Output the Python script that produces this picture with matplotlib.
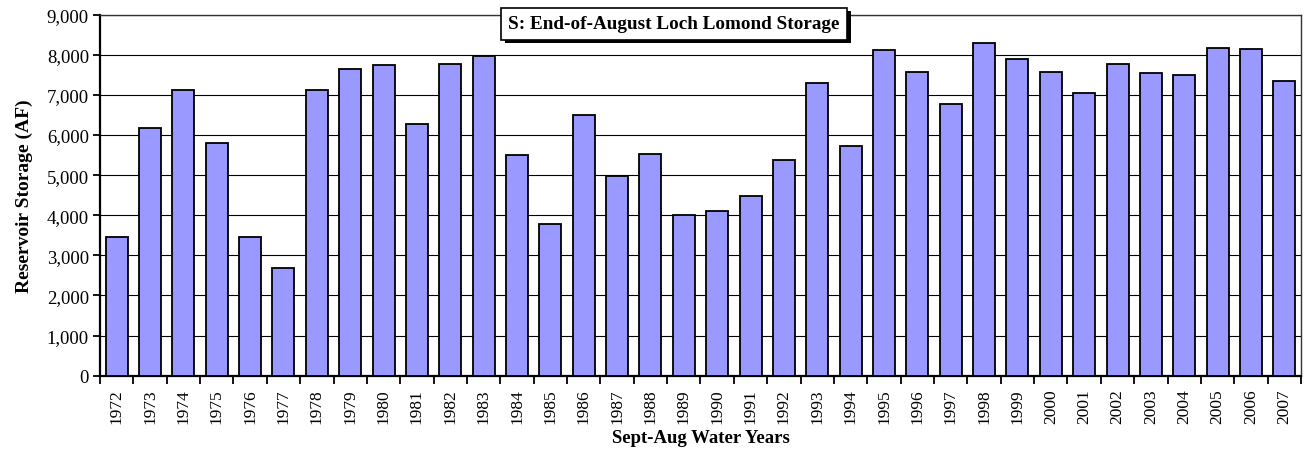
import matplotlib
matplotlib.use("Agg")
import matplotlib.pyplot as plt
import matplotlib.patheffects as pe
from matplotlib.ticker import FuncFormatter, FixedLocator
import numpy as np

years = [str(y) for y in range(1972, 2008)]
storage = [3460, 6180, 7120, 5800, 3460, 2690, 7120, 7640, 7750, 6280,
           7780, 7960, 5510, 3790, 6510, 4970, 5520, 4010, 4110, 4490,
           5370, 7300, 5730, 8130, 7570, 6780, 8290, 7900, 7570, 7060,
           7760, 7540, 7490, 8180, 8150, 7350]
title = "S: End-of-August Loch Lomond Storage"
ylabel = "Reservoir Storage (AF)"
xlabel = "Sept-Aug Water Years"

plt.rcParams['font.family'] = ['Liberation Serif', 'DejaVu Serif']

fig = plt.figure(figsize=(13.05, 4.56), dpi=100)
ax = fig.add_axes([100/1305, (456-376.7)/456, 1201/1305, (376.7-15.7)/456])

x = np.arange(len(years))
ax.bar(x, storage, width=0.66, color='#9999FF', edgecolor='black', linewidth=1.3, zorder=3)

ax.set_xlim(-0.5, len(years) - 0.5)
ax.set_ylim(0, 9000)
ax.set_yticks(np.arange(0, 9001, 1000))
ax.yaxis.set_major_formatter(FuncFormatter(lambda v, p: f"{int(v):,}"))
ax.yaxis.grid(True, color='black', linewidth=0.8, zorder=0)
ax.set_axisbelow(True)

ax.set_xticks(x)
ax.set_xticklabels(years, rotation=90)
ax.xaxis.set_minor_locator(FixedLocator(np.arange(-0.5, len(years), 1.0)))
ax.tick_params(axis='x', which='major', length=0, pad=9, labelsize=12.5)
ax.tick_params(axis='x', which='minor', length=6, width=1.3, direction='out')
ax.tick_params(axis='y', length=5, width=1.3, direction='out', pad=3, labelsize=13.5)

for s in ['left', 'bottom']:
    ax.spines[s].set_linewidth(1.6)
for s in ['top', 'right']:
    ax.spines[s].set_linewidth(1.0)
    ax.spines[s].set_color('#333333')

ax.set_ylabel(ylabel, fontsize=14, fontweight='bold', labelpad=10)
ax.set_xlabel(xlabel, fontsize=13.5, fontweight='bold', labelpad=4)

t = ax.text(0.478, 0.975, title, transform=ax.transAxes, ha='center', va='center',
            fontsize=13.8, fontweight='bold', zorder=10,
            bbox=dict(boxstyle='square,pad=0.38', facecolor='white', edgecolor='black', linewidth=1.2))
t.get_bbox_patch().set_path_effects([pe.withSimplePatchShadow(offset=(2.5, -2.5), shadow_rgbFace='black', alpha=1.0)])

fig.savefig("out.png", dpi=100)
